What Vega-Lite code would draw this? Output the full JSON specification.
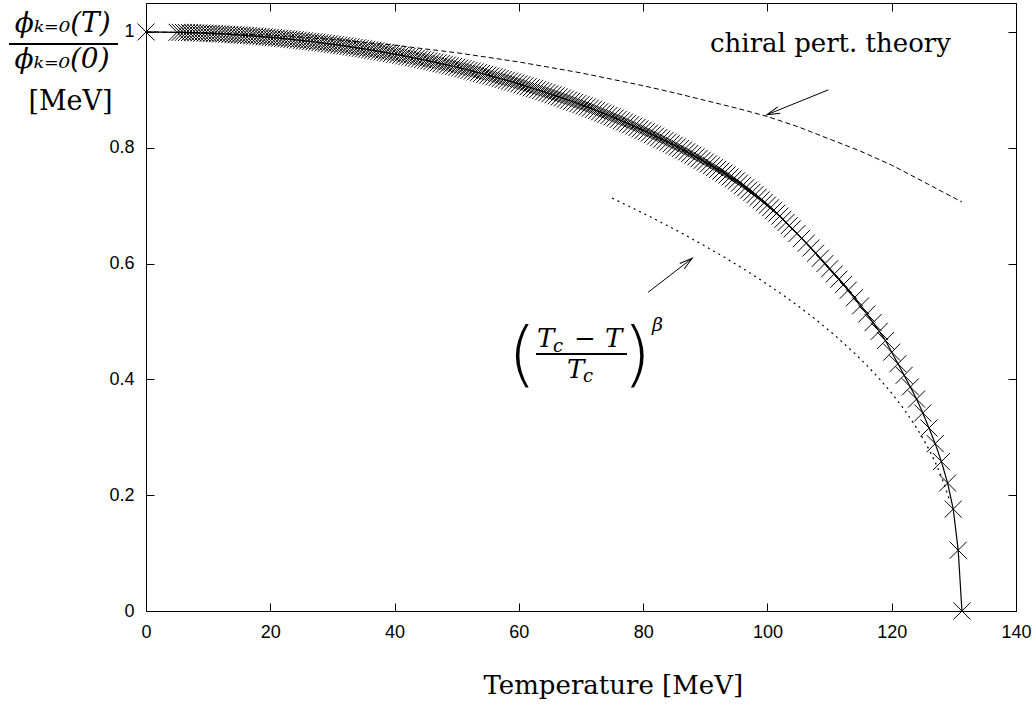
{
  "$schema": "https://vega.github.io/schema/vega-lite/v6.json",
  "width": 870,
  "height": 608,
  "autosize": "none",
  "padding": {"left": 146, "top": 3, "right": 19, "bottom": 96},
  "background": "white",
  "config": {"view": {"stroke": "black", "strokeWidth": 1}},
  "datasets": {
    "main": [
      {"T": 0, "v": 1.0},
      {"T": 5, "v": 0.9994}, {"T": 5.5, "v": 0.9993}, {"T": 6, "v": 0.9992}, {"T": 6.5, "v": 0.9990}, {"T": 7, "v": 0.9989}, {"T": 7.5, "v": 0.9987},
      {"T": 8, "v": 0.9985}, {"T": 8.5, "v": 0.9983}, {"T": 9, "v": 0.9981}, {"T": 9.5, "v": 0.9979}, {"T": 10, "v": 0.9977}, {"T": 10.5, "v": 0.9975},
      {"T": 11, "v": 0.9972}, {"T": 11.5, "v": 0.9969}, {"T": 12, "v": 0.9966}, {"T": 12.5, "v": 0.9964}, {"T": 13, "v": 0.9961}, {"T": 13.5, "v": 0.9958},
      {"T": 14, "v": 0.9954}, {"T": 14.5, "v": 0.9951}, {"T": 15, "v": 0.9947}, {"T": 15.5, "v": 0.9944}, {"T": 16, "v": 0.9940}, {"T": 16.5, "v": 0.9936},
      {"T": 17, "v": 0.9932}, {"T": 17.5, "v": 0.9928}, {"T": 18, "v": 0.9924}, {"T": 18.5, "v": 0.9920}, {"T": 19, "v": 0.9915}, {"T": 19.5, "v": 0.9911},
      {"T": 20, "v": 0.9906}, {"T": 20.5, "v": 0.9902}, {"T": 21, "v": 0.9897}, {"T": 21.5, "v": 0.9892}, {"T": 22, "v": 0.9886}, {"T": 22.5, "v": 0.9881},
      {"T": 23, "v": 0.9876}, {"T": 23.5, "v": 0.9871}, {"T": 24, "v": 0.9865}, {"T": 24.5, "v": 0.9859}, {"T": 25, "v": 0.9853}, {"T": 25.5, "v": 0.9847},
      {"T": 26, "v": 0.9841}, {"T": 26.5, "v": 0.9835}, {"T": 27, "v": 0.9828}, {"T": 27.5, "v": 0.9822}, {"T": 28, "v": 0.9815}, {"T": 28.5, "v": 0.9808},
      {"T": 29, "v": 0.9801}, {"T": 29.5, "v": 0.9794}, {"T": 30, "v": 0.9787}, {"T": 30.5, "v": 0.9780}, {"T": 31, "v": 0.9772}, {"T": 31.5, "v": 0.9765},
      {"T": 32, "v": 0.9757}, {"T": 32.5, "v": 0.9750}, {"T": 33, "v": 0.9742}, {"T": 33.5, "v": 0.9734}, {"T": 34, "v": 0.9725}, {"T": 34.5, "v": 0.9717},
      {"T": 35, "v": 0.9709}, {"T": 35.5, "v": 0.9700}, {"T": 36, "v": 0.9691}, {"T": 36.5, "v": 0.9682}, {"T": 37, "v": 0.9673}, {"T": 37.5, "v": 0.9664},
      {"T": 38, "v": 0.9655}, {"T": 38.5, "v": 0.9646}, {"T": 39, "v": 0.9636}, {"T": 39.5, "v": 0.9626}, {"T": 40, "v": 0.9616}, {"T": 40.5, "v": 0.9607},
      {"T": 41, "v": 0.9597}, {"T": 41.5, "v": 0.9587}, {"T": 42, "v": 0.9576}, {"T": 42.5, "v": 0.9566}, {"T": 43, "v": 0.9555}, {"T": 43.5, "v": 0.9544},
      {"T": 44, "v": 0.9533}, {"T": 44.5, "v": 0.9522}, {"T": 45, "v": 0.9511}, {"T": 45.5, "v": 0.9500}, {"T": 46, "v": 0.9488}, {"T": 46.5, "v": 0.9477},
      {"T": 47, "v": 0.9465}, {"T": 47.5, "v": 0.9453}, {"T": 48, "v": 0.9441}, {"T": 48.5, "v": 0.9429}, {"T": 49, "v": 0.9416}, {"T": 49.5, "v": 0.9404},
      {"T": 50, "v": 0.9391}, {"T": 50.5, "v": 0.9378}, {"T": 51, "v": 0.9365}, {"T": 51.5, "v": 0.9352}, {"T": 52, "v": 0.9338}, {"T": 52.5, "v": 0.9325},
      {"T": 53, "v": 0.9311}, {"T": 53.5, "v": 0.9297}, {"T": 54, "v": 0.9283}, {"T": 54.5, "v": 0.9269}, {"T": 55, "v": 0.9255}, {"T": 55.5, "v": 0.9241},
      {"T": 56, "v": 0.9226}, {"T": 56.5, "v": 0.9211}, {"T": 57, "v": 0.9196}, {"T": 57.5, "v": 0.9181}, {"T": 58, "v": 0.9166}, {"T": 58.5, "v": 0.9151},
      {"T": 59, "v": 0.9135}, {"T": 59.5, "v": 0.9119}, {"T": 60, "v": 0.9103}, {"T": 60.5, "v": 0.9087}, {"T": 61, "v": 0.9070}, {"T": 61.5, "v": 0.9054},
      {"T": 62, "v": 0.9037}, {"T": 62.5, "v": 0.9020}, {"T": 63, "v": 0.9003}, {"T": 63.5, "v": 0.8986}, {"T": 64, "v": 0.8969}, {"T": 64.5, "v": 0.8951},
      {"T": 65, "v": 0.8933}, {"T": 65.5, "v": 0.8915}, {"T": 66, "v": 0.8897}, {"T": 66.5, "v": 0.8879}, {"T": 67, "v": 0.8860}, {"T": 67.5, "v": 0.8841},
      {"T": 68, "v": 0.8822}, {"T": 68.5, "v": 0.8803}, {"T": 69, "v": 0.8784}, {"T": 69.5, "v": 0.8764}, {"T": 70, "v": 0.8744}, {"T": 70.5, "v": 0.8724},
      {"T": 71, "v": 0.8704}, {"T": 71.5, "v": 0.8684}, {"T": 72, "v": 0.8663}, {"T": 72.5, "v": 0.8642}, {"T": 73, "v": 0.8621}, {"T": 73.5, "v": 0.8600},
      {"T": 74, "v": 0.8578}, {"T": 74.5, "v": 0.8557}, {"T": 75, "v": 0.8535}, {"T": 75.5, "v": 0.8513}, {"T": 76, "v": 0.8490}, {"T": 76.5, "v": 0.8467},
      {"T": 77, "v": 0.8444}, {"T": 77.5, "v": 0.8421}, {"T": 78, "v": 0.8398}, {"T": 78.5, "v": 0.8374}, {"T": 79, "v": 0.8350}, {"T": 79.5, "v": 0.8326},
      {"T": 80, "v": 0.8301}, {"T": 80.5, "v": 0.8277}, {"T": 81, "v": 0.8252}, {"T": 81.5, "v": 0.8227}, {"T": 82, "v": 0.8201}, {"T": 82.5, "v": 0.8175},
      {"T": 83, "v": 0.8149}, {"T": 83.5, "v": 0.8123}, {"T": 84, "v": 0.8096}, {"T": 84.5, "v": 0.8069}, {"T": 85, "v": 0.8042}, {"T": 85.5, "v": 0.8015},
      {"T": 86, "v": 0.7987}, {"T": 86.5, "v": 0.7959}, {"T": 87, "v": 0.7930}, {"T": 87.5, "v": 0.7901}, {"T": 88, "v": 0.7872}, {"T": 88.5, "v": 0.7843},
      {"T": 89, "v": 0.7813}, {"T": 89.5, "v": 0.7783}, {"T": 90, "v": 0.7753}, {"T": 90.5, "v": 0.7722}, {"T": 91, "v": 0.7691}, {"T": 91.5, "v": 0.7659},
      {"T": 92, "v": 0.7627}, {"T": 92.5, "v": 0.7595}, {"T": 93, "v": 0.7563}, {"T": 93.5, "v": 0.7530}, {"T": 94, "v": 0.7496}, {"T": 94.5, "v": 0.7462},
      {"T": 95, "v": 0.7428}, {"T": 95.5, "v": 0.7389}, {"T": 96, "v": 0.735}, {"T": 96.5, "v": 0.731}, {"T": 97, "v": 0.727}, {"T": 97.5, "v": 0.723},
      {"T": 98, "v": 0.719}, {"T": 98.5, "v": 0.7145}, {"T": 99, "v": 0.710}, {"T": 99.5, "v": 0.7055}, {"T": 100, "v": 0.701}, {"T": 100.5, "v": 0.6965},
      {"T": 101, "v": 0.692}, {"T": 101.5, "v": 0.687}, {"T": 102, "v": 0.682}, {"T": 102.5, "v": 0.6765}, {"T": 103, "v": 0.671}, {"T": 103.5, "v": 0.6655},
      {"T": 104, "v": 0.660}, {"T": 104.75, "v": 0.6518}, {"T": 105.5, "v": 0.6435}, {"T": 106.25, "v": 0.6353}, {"T": 107, "v": 0.627},
      {"T": 107.75, "v": 0.618}, {"T": 108.5, "v": 0.609}, {"T": 109.25, "v": 0.600}, {"T": 110, "v": 0.591}, {"T": 110.75, "v": 0.582},
      {"T": 111.5, "v": 0.573}, {"T": 112.25, "v": 0.5638}, {"T": 113, "v": 0.554},
      {"T": 114, "v": 0.541}, {"T": 115, "v": 0.527}, {"T": 116, "v": 0.513}, {"T": 117, "v": 0.498}, {"T": 118, "v": 0.483}, {"T": 119, "v": 0.467},
      {"T": 120, "v": 0.447}, {"T": 121, "v": 0.427}, {"T": 122, "v": 0.407}, {"T": 123, "v": 0.387}, {"T": 124, "v": 0.366},
      {"T": 125, "v": 0.342}, {"T": 126, "v": 0.316}, {"T": 127, "v": 0.289}, {"T": 128, "v": 0.258}, {"T": 129, "v": 0.221},
      {"T": 129.9, "v": 0.176}, {"T": 130.7, "v": 0.105}, {"T": 131.3, "v": 0.0}
    ],
    "fit": [
      {"T": 75, "v": 0.713}, {"T": 78, "v": 0.6975}, {"T": 81, "v": 0.6816}, {"T": 84, "v": 0.6651}, {"T": 87, "v": 0.6479},
      {"T": 90, "v": 0.6300}, {"T": 93, "v": 0.6114}, {"T": 96, "v": 0.5918}, {"T": 99, "v": 0.5712}, {"T": 102, "v": 0.5494},
      {"T": 105, "v": 0.5263}, {"T": 108, "v": 0.5015}, {"T": 111, "v": 0.4747}, {"T": 114, "v": 0.4454}, {"T": 116, "v": 0.4242},
      {"T": 118, "v": 0.4012}, {"T": 120, "v": 0.3761}, {"T": 122, "v": 0.3482}, {"T": 124, "v": 0.3164}, {"T": 125, "v": 0.2986},
      {"T": 126, "v": 0.2790}, {"T": 127, "v": 0.2570}, {"T": 128, "v": 0.2318}, {"T": 129, "v": 0.2017}, {"T": 129.4, "v": 0.1875}
    ],
    "chpt": [
      {"T": 0, "v": 1.0}, {"T": 10, "v": 0.9986}, {"T": 20, "v": 0.9943}, {"T": 30, "v": 0.9872}, {"T": 40, "v": 0.9771},
      {"T": 50, "v": 0.9641}, {"T": 60, "v": 0.9482}, {"T": 70, "v": 0.9293}, {"T": 80, "v": 0.9072}, {"T": 85, "v": 0.8949},
      {"T": 90, "v": 0.8817}, {"T": 95, "v": 0.8685}, {"T": 100, "v": 0.8540}, {"T": 105, "v": 0.8360}, {"T": 110, "v": 0.8150},
      {"T": 115, "v": 0.7940}, {"T": 120, "v": 0.7700}, {"T": 125, "v": 0.7420}, {"T": 131.3, "v": 0.7063}
    ],
    "arrows": [
      {"name": "chpt", "T": 109.8, "v": 0.900, "T2": 99.9, "v2": 0.857},
      {"name": "fit", "T": 80.8, "v": 0.5504, "T2": 87.9, "v2": 0.6092}
    ],
    "bar": [{"T": 62.76, "T2": 77.4, "v": 0.4439}, {"T": -22.05, "T2": -4.51, "v": 0.9793}],
    "annot": [
      {"g": "roman", "text": "chiral pert. theory", "T": 90.76, "v": 0.9655},
      {"g": "ital", "text": "T", "T": 62.92, "v": 0.456},
      {"g": "ital", "text": "T", "T": 73.86, "v": 0.456},
      {"g": "ital", "text": "T", "T": 67.75, "v": 0.4024},
      {"g": "minus", "text": "−", "T": 70.64, "v": 0.456},
      {"g": "sub", "text": "c", "T": 65.49, "v": 0.4473},
      {"g": "sub", "text": "c", "T": 70.32, "v": 0.3955},
      {"g": "lparen", "text": "(", "T": 62.76, "v": 0.4031},
      {"g": "rparen", "text": ")", "T": 76.76, "v": 0.4031},
      {"g": "beta", "text": "β", "T": 81.43, "v": 0.4836},
      {"g": "yfrac", "text": "ϕₖ₌₀(T)", "T": -13.4, "v": 1.0},
      {"g": "yfrac", "text": "ϕₖ₌₀(0)", "T": -13.5, "v": 0.9378},
      {"g": "yunit", "text": "[MeV]", "T": -12.15, "v": 0.8653}
    ]
  },
  "resolve": {"axis": {"x": "independent", "y": "independent"}},
  "layer": [
    {
      "data": {"name": "chpt"},
      "mark": {"type": "line", "color": "black", "strokeWidth": 1, "strokeDash": [5, 3]},
      "encoding": {
        "x": {"field": "T", "type": "quantitative", "scale": {"domain": [0, 140], "nice": false, "zero": false},
          "axis": {"orient": "top", "values": [0, 20, 40, 60, 80, 100, 120, 140], "labels": false, "title": null, "domain": false, "grid": false, "ticks": true, "tickSize": -8, "tickColor": "black", "tickWidth": 1}},
        "y": {"field": "v", "type": "quantitative", "scale": {"domain": [0, 1.05], "nice": false, "zero": false},
          "axis": {"orient": "right", "values": [0, 0.2, 0.4, 0.6, 0.8, 1], "labels": false, "title": null, "domain": false, "grid": false, "ticks": true, "tickSize": -8, "tickColor": "black", "tickWidth": 1}}
      }
    },
    {
      "data": {"name": "fit"},
      "mark": {"type": "line", "color": "black", "strokeWidth": 1.2, "strokeDash": [2, 4]},
      "encoding": {
        "x": {"field": "T", "type": "quantitative", "scale": {"domain": [0, 140], "nice": false, "zero": false}, "axis": null},
        "y": {"field": "v", "type": "quantitative", "scale": {"domain": [0, 1.05], "nice": false, "zero": false}, "axis": null}
      }
    },
    {
      "data": {"name": "main"},
      "mark": {"type": "line", "color": "black", "strokeWidth": 1.2},
      "encoding": {
        "x": {"field": "T", "type": "quantitative", "scale": {"domain": [0, 140], "nice": false, "zero": false}, "axis": null},
        "y": {"field": "v", "type": "quantitative", "scale": {"domain": [0, 1.05], "nice": false, "zero": false}, "axis": null}
      }
    },
    {
      "data": {"name": "main"},
      "mark": {"type": "point", "shape": "M-1,-1L1,1M-1,1L1,-1", "size": 289, "filled": false, "stroke": "black", "strokeWidth": 1, "opacity": 1},
      "encoding": {
        "x": {"field": "T", "type": "quantitative", "scale": {"domain": [0, 140], "nice": false, "zero": false},
          "axis": {"orient": "bottom", "values": [0, 20, 40, 60, 80, 100, 120, 140], "title": "Temperature [MeV]", "domain": false, "grid": false, "ticks": true, "tickSize": -8, "tickColor": "black", "tickWidth": 1,
            "labelFont": "Liberation Sans", "labelFontSize": 18, "labelColor": "black", "labelPadding": 20, "labelFlush": false, "labelOverlap": false,
            "titleFont": "DejaVu Serif", "titleFontSize": 26, "titleFontWeight": "normal", "titleColor": "black", "titleX": 337, "titleY": 82, "titleAlign": "left", "titleBaseline": "alphabetic"}},
        "y": {"field": "v", "type": "quantitative", "scale": {"domain": [0, 1.05], "nice": false, "zero": false},
          "axis": {"orient": "left", "values": [0, 0.2, 0.4, 0.6, 0.8, 1], "format": "~g", "domain": false, "grid": false, "ticks": true, "tickSize": -8, "tickColor": "black", "tickWidth": 1,
            "labelFont": "Liberation Sans", "labelFontSize": 18, "labelColor": "black", "labelPadding": 20, "labelFlush": false, "labelOverlap": false,
            "title": null}}
      }
    },
    {
      "data": {"name": "arrows"},
      "mark": {"type": "rule", "color": "black", "strokeWidth": 1},
      "encoding": {
        "x": {"field": "T", "type": "quantitative", "scale": {"domain": [0, 140], "nice": false, "zero": false}, "axis": null},
        "y": {"field": "v", "type": "quantitative", "scale": {"domain": [0, 1.05], "nice": false, "zero": false}, "axis": null},
        "x2": {"field": "T2"},
        "y2": {"field": "v2"}
      }
    },
    {
      "data": {"name": "arrows"},
      "transform": [{"filter": "datum.name == 'chpt'"}],
      "mark": {"type": "point", "shape": "M-1,-0.27L0,0L-1,0.27", "size": 676, "filled": false, "stroke": "black", "strokeWidth": 1, "opacity": 1, "angle": 158.8},
      "encoding": {
        "x": {"field": "T2", "type": "quantitative", "scale": {"domain": [0, 140], "nice": false, "zero": false}, "axis": null},
        "y": {"field": "v2", "type": "quantitative", "scale": {"domain": [0, 1.05], "nice": false, "zero": false}, "axis": null}
      }
    },
    {
      "data": {"name": "arrows"},
      "transform": [{"filter": "datum.name == 'fit'"}],
      "mark": {"type": "point", "shape": "M-1,-0.27L0,0L-1,0.27", "size": 676, "filled": false, "stroke": "black", "strokeWidth": 1, "opacity": 1, "angle": 322.3},
      "encoding": {
        "x": {"field": "T2", "type": "quantitative", "scale": {"domain": [0, 140], "nice": false, "zero": false}, "axis": null},
        "y": {"field": "v2", "type": "quantitative", "scale": {"domain": [0, 1.05], "nice": false, "zero": false}, "axis": null}
      }
    },
    {
      "data": {"name": "bar"},
      "mark": {"type": "rule", "color": "black", "strokeWidth": 2},
      "encoding": {
        "x": {"field": "T", "type": "quantitative", "scale": {"domain": [0, 140], "nice": false, "zero": false}, "axis": null},
        "x2": {"field": "T2"},
        "y": {"field": "v", "type": "quantitative", "scale": {"domain": [0, 1.05], "nice": false, "zero": false}, "axis": null}
      }
    },
    {
      "data": {"name": "annot"},
      "transform": [{"filter": "datum.g == 'roman'"}],
      "mark": {"type": "text", "font": "DejaVu Serif", "fontSize": 26, "align": "left", "baseline": "alphabetic", "color": "black"},
      "encoding": {
        "x": {"field": "T", "type": "quantitative", "scale": {"domain": [0, 140], "nice": false, "zero": false}, "axis": null},
        "y": {"field": "v", "type": "quantitative", "scale": {"domain": [0, 1.05], "nice": false, "zero": false}, "axis": null},
        "text": {"field": "text"}
      }
    },
    {
      "data": {"name": "annot"},
      "transform": [{"filter": "datum.g == 'yfrac'"}],
      "mark": {"type": "text", "font": "DejaVu Serif", "fontStyle": "italic", "fontSize": 28, "align": "center", "baseline": "alphabetic", "color": "black"},
      "encoding": {
        "x": {"field": "T", "type": "quantitative", "scale": {"domain": [0, 140], "nice": false, "zero": false}, "axis": null},
        "y": {"field": "v", "type": "quantitative", "scale": {"domain": [0, 1.05], "nice": false, "zero": false}, "axis": null},
        "text": {"field": "text"}
      }
    },
    {
      "data": {"name": "annot"},
      "transform": [{"filter": "datum.g == 'yunit'"}],
      "mark": {"type": "text", "font": "DejaVu Serif", "fontSize": 27, "align": "center", "baseline": "alphabetic", "color": "black"},
      "encoding": {
        "x": {"field": "T", "type": "quantitative", "scale": {"domain": [0, 140], "nice": false, "zero": false}, "axis": null},
        "y": {"field": "v", "type": "quantitative", "scale": {"domain": [0, 1.05], "nice": false, "zero": false}, "axis": null},
        "text": {"field": "text"}
      }
    },
    {
      "data": {"name": "annot"},
      "transform": [{"filter": "datum.g == 'ital'"}],
      "mark": {"type": "text", "font": "DejaVu Serif", "fontStyle": "italic", "fontSize": 26, "align": "left", "baseline": "alphabetic", "color": "black"},
      "encoding": {
        "x": {"field": "T", "type": "quantitative", "scale": {"domain": [0, 140], "nice": false, "zero": false}, "axis": null},
        "y": {"field": "v", "type": "quantitative", "scale": {"domain": [0, 1.05], "nice": false, "zero": false}, "axis": null},
        "text": {"field": "text"}
      }
    },
    {
      "data": {"name": "annot"},
      "transform": [{"filter": "datum.g == 'minus'"}],
      "mark": {"type": "text", "font": "DejaVu Serif", "fontSize": 26, "align": "center", "baseline": "alphabetic", "color": "black"},
      "encoding": {
        "x": {"field": "T", "type": "quantitative", "scale": {"domain": [0, 140], "nice": false, "zero": false}, "axis": null},
        "y": {"field": "v", "type": "quantitative", "scale": {"domain": [0, 1.05], "nice": false, "zero": false}, "axis": null},
        "text": {"field": "text"}
      }
    },
    {
      "data": {"name": "annot"},
      "transform": [{"filter": "datum.g == 'sub'"}],
      "mark": {"type": "text", "font": "DejaVu Serif", "fontStyle": "italic", "fontSize": 18, "align": "left", "baseline": "alphabetic", "color": "black"},
      "encoding": {
        "x": {"field": "T", "type": "quantitative", "scale": {"domain": [0, 140], "nice": false, "zero": false}, "axis": null},
        "y": {"field": "v", "type": "quantitative", "scale": {"domain": [0, 1.05], "nice": false, "zero": false}, "axis": null},
        "text": {"field": "text"}
      }
    },
    {
      "data": {"name": "annot"},
      "transform": [{"filter": "datum.g == 'lparen'"}],
      "mark": {"type": "text", "font": "DejaVu Sans", "fontWeight": 200, "fontSize": 72, "align": "right", "baseline": "alphabetic", "color": "black"},
      "encoding": {
        "x": {"field": "T", "type": "quantitative", "scale": {"domain": [0, 140], "nice": false, "zero": false}, "axis": null},
        "y": {"field": "v", "type": "quantitative", "scale": {"domain": [0, 1.05], "nice": false, "zero": false}, "axis": null},
        "text": {"field": "text"}
      }
    },
    {
      "data": {"name": "annot"},
      "transform": [{"filter": "datum.g == 'rparen'"}],
      "mark": {"type": "text", "font": "DejaVu Sans", "fontWeight": 200, "fontSize": 72, "align": "left", "baseline": "alphabetic", "color": "black"},
      "encoding": {
        "x": {"field": "T", "type": "quantitative", "scale": {"domain": [0, 140], "nice": false, "zero": false}, "axis": null},
        "y": {"field": "v", "type": "quantitative", "scale": {"domain": [0, 1.05], "nice": false, "zero": false}, "axis": null},
        "text": {"field": "text"}
      }
    },
    {
      "data": {"name": "annot"},
      "transform": [{"filter": "datum.g == 'beta'"}],
      "mark": {"type": "text", "font": "DejaVu Serif", "fontStyle": "italic", "fontSize": 19, "align": "left", "baseline": "alphabetic", "color": "black"},
      "encoding": {
        "x": {"field": "T", "type": "quantitative", "scale": {"domain": [0, 140], "nice": false, "zero": false}, "axis": null},
        "y": {"field": "v", "type": "quantitative", "scale": {"domain": [0, 1.05], "nice": false, "zero": false}, "axis": null},
        "text": {"field": "text"}
      }
    }
  ]
}
